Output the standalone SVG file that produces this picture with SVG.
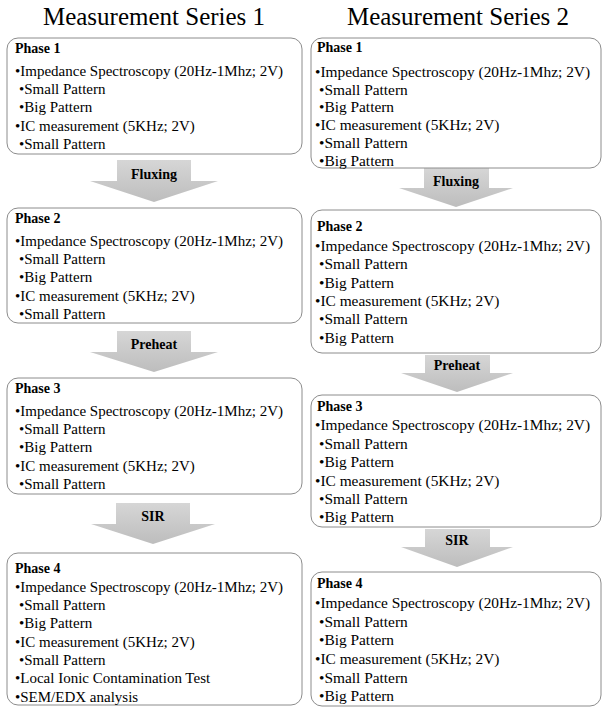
<svg xmlns="http://www.w3.org/2000/svg" width="603" height="708" viewBox="0 0 603 708">
<defs>
<linearGradient id="ag" x1="0" y1="0" x2="0" y2="1">
<stop offset="0" stop-color="#d6d6d6"/>
<stop offset="1" stop-color="#bdbdbd"/>
</linearGradient>
</defs>
<style>
.box{fill:#fff;stroke:#8c8c8c;stroke-width:1}
.t{font-family:"Liberation Serif","Times New Roman",serif;fill:#000}
.title{font-size:25px;text-anchor:middle}
.ph{font-size:14px;font-weight:bold}
.li{font-size:15px}
.lr{font-size:15.4px}
.arr{fill:url(#ag);stroke:none}
.al{font-family:"Liberation Serif","Times New Roman",serif;font-size:14px;font-weight:bold;text-anchor:middle;fill:#000}
</style>
<rect width="603" height="708" fill="#fff"/>
<g id="title1"><text class="t title" x="154" y="25">Measurement Series 1</text></g>
<g id="title2"><text class="t title" x="458" y="25">Measurement Series 2</text></g>

<g id="connectors">
<path class="arr" d="M117,160 H191 V181 H218 L154,202 L90,181 H117 Z"/>
<text class="al" x="154" y="179">Fluxing</text>
<path class="arr" d="M117,331 H191 V352 H218 L154,372 L90,352 H117 Z"/>
<text class="al" x="154" y="349">Preheat</text>
<path class="arr" d="M116,503 H190 V524 H215 L153,544 L91,524 H116 Z"/>
<text class="al" x="153" y="521">SIR</text>
<path class="arr" d="M424,168 H489 V188 H513 L456,207 L399,188 H424 Z"/>
<text class="al" x="456" y="186">Fluxing</text>
<path class="arr" d="M425,355 H490 V373 H513 L457,392 L401,373 H425 Z"/>
<text class="al" x="457" y="370">Preheat</text>
<path class="arr" d="M425,529 H490 V547 H513 L457,567 L401,547 H425 Z"/>
<text class="al" x="457" y="545">SIR</text>
</g>

<g id="L1">
<rect class="box" x="7" y="38" width="295" height="116" rx="11"/>
<text class="t ph" x="15" y="53">Phase 1</text>
<text class="t li" x="15" y="76">•Impedance Spectroscopy (20Hz-1Mhz; 2V)</text>
<text class="t li" x="19" y="94">•Small Pattern</text>
<text class="t li" x="19" y="112">•Big Pattern</text>
<text class="t li" x="15" y="131">•IC measurement (5KHz; 2V)</text>
<text class="t li" x="19" y="149">•Small Pattern</text>
</g>
<g id="L2">
<rect class="box" x="7" y="208" width="295" height="115" rx="11"/>
<text class="t ph" x="15" y="223">Phase 2</text>
<text class="t li" x="15" y="246">•Impedance Spectroscopy (20Hz-1Mhz; 2V)</text>
<text class="t li" x="19" y="264">•Small Pattern</text>
<text class="t li" x="19" y="282">•Big Pattern</text>
<text class="t li" x="15" y="301">•IC measurement (5KHz; 2V)</text>
<text class="t li" x="19" y="319">•Small Pattern</text>
</g>
<g id="L3">
<rect class="box" x="7" y="378" width="295" height="116" rx="11"/>
<text class="t ph" x="15" y="393">Phase 3</text>
<text class="t li" x="15" y="416">•Impedance Spectroscopy (20Hz-1Mhz; 2V)</text>
<text class="t li" x="19" y="434">•Small Pattern</text>
<text class="t li" x="19" y="452">•Big Pattern</text>
<text class="t li" x="15" y="471">•IC measurement (5KHz; 2V)</text>
<text class="t li" x="19" y="489">•Small Pattern</text>
</g>
<g id="L4">
<rect class="box" x="7" y="553" width="295" height="152" rx="11"/>
<text class="t ph" x="15" y="573">Phase 4</text>
<text class="t li" x="15" y="592">•Impedance Spectroscopy (20Hz-1Mhz; 2V)</text>
<text class="t li" x="19" y="610">•Small Pattern</text>
<text class="t li" x="19" y="628">•Big Pattern</text>
<text class="t li" x="15" y="647">•IC measurement (5KHz; 2V)</text>
<text class="t li" x="19" y="665">•Small Pattern</text>
<text class="t li" x="15" y="683">•Local Ionic Contamination Test</text>
<text class="t li" x="15" y="702">•SEM/EDX analysis</text>
</g>

<g id="R1">
<rect class="box" x="311" y="38" width="290" height="130" rx="11"/>
<text class="t ph" x="317" y="52">Phase 1</text>
<text class="t lr" x="315" y="77">•Impedance Spectroscopy (20Hz-1Mhz; 2V)</text>
<text class="t lr" x="319" y="94.5">•Small Pattern</text>
<text class="t lr" x="319" y="112">•Big Pattern</text>
<text class="t lr" x="315" y="130">•IC measurement (5KHz; 2V)</text>
<text class="t lr" x="319" y="148">•Small Pattern</text>
<text class="t lr" x="319" y="166">•Big Pattern</text>
</g>
<g id="R2">
<rect class="box" x="311" y="210" width="290" height="143" rx="11"/>
<text class="t ph" x="317" y="231">Phase 2</text>
<text class="t lr" x="315" y="251">•Impedance Spectroscopy (20Hz-1Mhz; 2V)</text>
<text class="t lr" x="319" y="269">•Small Pattern</text>
<text class="t lr" x="319" y="288">•Big Pattern</text>
<text class="t lr" x="315" y="306">•IC measurement (5KHz; 2V)</text>
<text class="t lr" x="319" y="324">•Small Pattern</text>
<text class="t lr" x="319" y="343">•Big Pattern</text>
</g>
<g id="R3">
<rect class="box" x="311" y="395" width="290" height="132" rx="11"/>
<text class="t ph" x="317" y="411">Phase 3</text>
<text class="t lr" x="315" y="430">•Impedance Spectroscopy (20Hz-1Mhz; 2V)</text>
<text class="t lr" x="319" y="449">•Small Pattern</text>
<text class="t lr" x="319" y="467">•Big Pattern</text>
<text class="t lr" x="315" y="486">•IC measurement (5KHz; 2V)</text>
<text class="t lr" x="319" y="504">•Small Pattern</text>
<text class="t lr" x="319" y="522">•Big Pattern</text>
</g>
<g id="R4">
<rect class="box" x="311" y="572" width="290" height="134" rx="11"/>
<text class="t ph" x="317" y="588">Phase 4</text>
<text class="t lr" x="315" y="608">•Impedance Spectroscopy (20Hz-1Mhz; 2V)</text>
<text class="t lr" x="319" y="627">•Small Pattern</text>
<text class="t lr" x="319" y="645">•Big Pattern</text>
<text class="t lr" x="315" y="664">•IC measurement (5KHz; 2V)</text>
<text class="t lr" x="319" y="683">•Small Pattern</text>
<text class="t lr" x="319" y="701">•Big Pattern</text>
</g>
</svg>
